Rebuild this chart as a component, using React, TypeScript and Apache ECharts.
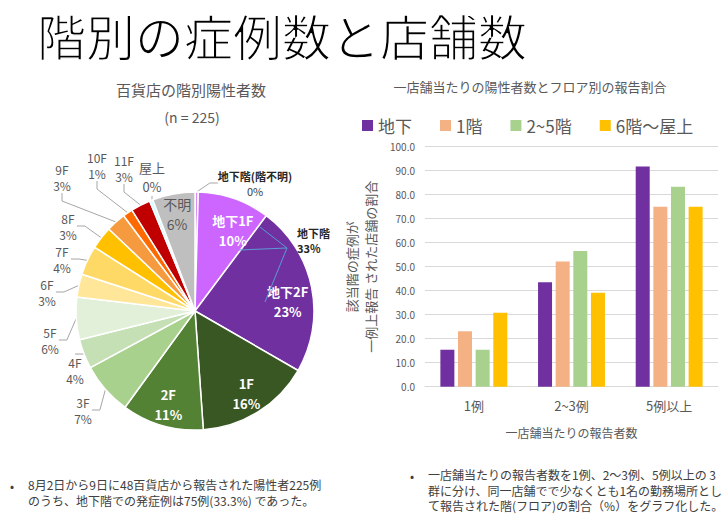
import React, { useEffect, useRef } from 'react';
import * as echarts from 'echarts';

// ---- Pie data (n = 225) ----
const pieNames = ['地下階(階不明)', '地下1F', '地下2F', '1F', '2F', '3F', '4F', '5F', '6F', '7F', '8F', '9F', '10F', '11F', '屋上', '不明'];
const pieCounts = [1, 22, 52, 35, 25, 16, 9, 13, 7, 9, 7, 6, 3, 6, 1, 13];
const pieColors = ['#DC8CF5', '#CC66FF', '#7030A0', '#385723', '#548235', '#A9D18E', '#C5E0B4', '#E2F0D9', '#FFE699', '#FFD966', '#FFC000', '#F59A3E', '#FF6A00', '#C00000', '#CCFFFF', '#BFBFBF'];
const insideLabelNames = ['地下1F', '地下2F', '1F', '2F', '不明'];

// ---- Bar data ----
const barCategories = ['1例', '2~3例', '5例以上'];
const seriesNames = ['地下', '1階', '2~5階', '6階～屋上'];
const basementValues = [15.4, 43.5, 91.7];
const firstFloorValues = [23.1, 52.2, 75.0];
const floors2to5Values = [15.4, 56.5, 83.3];
const floors6upValues = [30.8, 39.1, 75.0];
const barColors = ['#7030A0', '#F4B183', '#A9D18E', '#FFC000'];

// ---- Texts ----
const mainTitle = '階別の症例数と店舗数';
const pieTitle = '百貨店の階別陽性者数';
const pieSubtitle = '(n = 225)';
const barTitle = '一店舗当たりの陽性者数とフロア別の報告割合';
const leftNote = '8月2日から9日に48百貨店から報告された陽性者225例\nのうち、地下階での発症例は75例(33.3%) であった。';
const rightNote = '一店舗当たりの報告者数を1例、2～3例、5例以上の 3\n群に分け、同一店舗でで少なくとも1名の勤務場所とし\nて報告された階(フロア)の割合（%）をグラフ化した。';

// ---- Layout (positions only) ----
const FONT = '"Noto Sans CJK JP", "Noto Sans", sans-serif';
const PIE_CX = 195;
const PIE_CY = 311;
const PIE_R = 119;
// inside label tweak: [radial scale from default (0.5R) position, rotation in degrees]
const insideLabelTweak: Record<string, [number, number]> = {
  '地下1F': [1.42, 6],
  '地下2F': [1.49, 6],
  '1F': [1.55, 0],
  '2F': [1.55, 0],
  '不明': [1.58, 0],
};
const outsideLabelPos: Record<string, [number, number]> = {
  '地下階(階不明)': [255, 183],
  '3F': [83, 410],
  '4F': [75, 370],
  '5F': [50, 340],
  '6F': [47, 292],
  '7F': [62, 259],
  '8F': [68, 226],
  '9F': [62, 177],
  '10F': [97, 165],
  '11F': [124, 168],
  '屋上': [152, 177],
};

export default function App() {
  const ref = useRef<HTMLDivElement>(null);
  useEffect(() => {
    if (!ref.current) return;
    const chart = echarts.init(ref.current, null, { renderer: 'svg' });
    const total = pieCounts.reduce((a, b) => a + b, 0);

    const pieData = pieNames.map((name, i) => {
      const inside = insideLabelNames.includes(name);
      const item: any = {
        name,
        value: pieCounts[i],
        itemStyle: { color: pieColors[i] },
      };
      if (inside) {
        const gray = name === '不明';
        item.label = {
          position: 'inside',
          color: gray ? '#595959' : '#ffffff',
          fontWeight: gray ? 'normal' : 'bold',
          fontSize: gray ? 14 : 13,
          lineHeight: 20,
        };
      } else if (name === '地下階(階不明)') {
        item.label = {
          position: 'outside',
          formatter: (p: any) => `{t|${p.name}}\n{v|${Math.round((p.value / total) * 100)}%}`,
          rich: {
            t: { fontSize: 11, fontWeight: 'bold', color: '#262626', fontFamily: FONT, lineHeight: 15 },
            v: { fontSize: 11, color: '#404040', fontFamily: FONT, lineHeight: 15 },
          },
        };
      } else {
        item.label = {
          position: 'outside',
          fontSize: name === '屋上' ? 13 : 12,
          color: '#595959',
          lineHeight: name === '屋上' ? 19 : 16,
        };
      }
      return item;
    });

    const barSeriesValues = [basementValues, firstFloorValues, floors2to5Values, floors6upValues];
    const titleFont = '"Noto Sans CJK JP", sans-serif';

    const option: any = {
      animation: false,
      backgroundColor: '#ffffff',
      textStyle: { fontFamily: FONT },
      graphic: [
        {
          type: 'text', x: 37, y: 34, z: 100,
          style: { text: mainTitle, fontSize: 49, fontFamily: titleFont, fill: '#000000', textVerticalAlign: 'middle', verticalAlign: 'middle' },
        },
        // white outline drawn on top thins the strokes to a light weight
        {
          type: 'text', x: 37, y: 34, z: 101, silent: true,
          style: { text: mainTitle, fontSize: 49, fontFamily: titleFont, fill: 'none', stroke: '#ffffff', lineWidth: 1.4, textVerticalAlign: 'middle', verticalAlign: 'middle' },
        },
        {
          type: 'text', x: 191, y: 89, z: 100,
          style: { text: pieTitle, fontSize: 15, fontFamily: FONT, fill: '#595959', textAlign: 'center', align: 'center', textVerticalAlign: 'middle', verticalAlign: 'middle' },
        },
        {
          type: 'text', x: 192, y: 117, z: 100,
          style: { text: pieSubtitle, fontSize: 14, fontFamily: FONT, fill: '#595959', textAlign: 'center', align: 'center', textVerticalAlign: 'middle', verticalAlign: 'middle' },
        },
        {
          type: 'text', x: 530, y: 86, z: 100,
          style: { text: barTitle, fontSize: 13, fontFamily: FONT, fill: '#595959', textAlign: 'center', align: 'center', textVerticalAlign: 'middle', verticalAlign: 'middle' },
        },
        // callout for 地下階 total
        { type: 'line', z: 100, shape: { x1: 287, y1: 248, x2: 260, y2: 227 }, style: { stroke: '#5B9BD5', lineWidth: 1 } },
        { type: 'line', z: 100, shape: { x1: 287, y1: 248, x2: 239, y2: 250 }, style: { stroke: '#5B9BD5', lineWidth: 1 } },
        { type: 'line', z: 100, shape: { x1: 287, y1: 248, x2: 265, y2: 302 }, style: { stroke: '#5B9BD5', lineWidth: 1 } },
        {
          type: 'text', x: 297, y: 233, z: 100,
          style: { text: '地下階', fontSize: 11, fontWeight: 'bold', fontFamily: FONT, fill: '#262626', textVerticalAlign: 'middle', verticalAlign: 'middle' },
        },
        {
          type: 'text', x: 297, y: 248, z: 100,
          style: { text: '33%', fontSize: 11, fontWeight: 'bold', fontFamily: FONT, fill: '#262626', textVerticalAlign: 'middle', verticalAlign: 'middle' },
        },
        // footnotes
        {
          type: 'text', x: 10, y: 485, z: 100,
          style: { text: '•', fontSize: 12, fontFamily: FONT, fill: '#404040', textVerticalAlign: 'middle', verticalAlign: 'middle' },
        },
        {
          type: 'text', x: 28, y: 492.5, z: 100,
          style: { text: leftNote, fontSize: 12, lineHeight: 15.5, fontFamily: FONT, fill: '#404040', textVerticalAlign: 'middle', verticalAlign: 'middle' },
        },
        {
          type: 'text', x: 410, y: 475, z: 100,
          style: { text: '•', fontSize: 12, fontFamily: FONT, fill: '#404040', textVerticalAlign: 'middle', verticalAlign: 'middle' },
        },
        {
          type: 'text', x: 428, y: 490, z: 100,
          style: { text: rightNote, fontSize: 12, lineHeight: 15.5, fontFamily: FONT, fill: '#404040', textVerticalAlign: 'middle', verticalAlign: 'middle' },
        },
      ],
      legend: {
        data: seriesNames,
        left: 362,
        top: 117,
        itemWidth: 11,
        itemHeight: 11,
        itemGap: 28,
        icon: 'rect',
        padding: 0,
        textStyle: { fontSize: 17, color: '#595959', fontFamily: FONT },
      },
      grid: { left: 425, right: 10, top: 146.7, bottom: 135.3, containLabel: false },
      xAxis: {
        type: 'category',
        data: barCategories,
        axisLine: { lineStyle: { color: '#D9D9D9' } },
        axisTick: { show: false },
        axisLabel: { fontSize: 13, color: '#595959', margin: 12 },
        name: '一店舗当たりの報告者数',
        nameLocation: 'middle',
        nameGap: 40,
        nameTextStyle: { fontSize: 12, color: '#595959' },
      },
      yAxis: {
        type: 'value',
        min: 0,
        max: 100,
        interval: 10,
        axisLine: { show: false },
        axisTick: { show: false },
        splitLine: { lineStyle: { color: '#D9D9D9' } },
        axisLabel: { fontSize: 10, color: '#595959', formatter: (v: number) => v.toFixed(1), margin: 10 },
        name: '該当階の症例が\n一例上報告 された店舗の割合',
        nameLocation: 'middle',
        nameRotate: 90,
        nameGap: 45,
        nameTextStyle: { fontSize: 13, color: '#595959', lineHeight: 19 },
      },
      series: [
        ...seriesNames.map((name, i) => ({
          type: 'bar',
          name,
          data: barSeriesValues[i],
          barWidth: 14,
          barGap: '26%',
          itemStyle: { color: barColors[i] },
        })),
        {
          type: 'pie',
          name: '階別',
          center: [PIE_CX, PIE_CY],
          radius: PIE_R,
          startAngle: 90,
          clockwise: true,
          avoidLabelOverlap: false,
          itemStyle: { borderColor: '#ffffff', borderWidth: 1.5 },
          label: {
            show: true,
            fontFamily: FONT,
            formatter: (p: any) => `${p.name}\n${Math.round((p.value / total) * 100)}%`,
          },
          labelLine: { show: true, length: 8, length2: 8, lineStyle: { color: '#A6A6A6', width: 1 } },
          labelLayout: (params: any) => {
            const name = pieNames[params.dataIndex];
            const r = params.labelRect;
            const tweak = insideLabelTweak[name];
            if (tweak) {
              const vx = r.x + r.width / 2 - PIE_CX;
              const vy = r.y + r.height / 2 - PIE_CY;
              const a = (tweak[1] * Math.PI) / 180;
              const nx = (vx * Math.cos(a) - vy * Math.sin(a)) * tweak[0];
              const ny = (vx * Math.sin(a) + vy * Math.cos(a)) * tweak[0];
              return { dx: nx - vx, dy: ny - vy };
            }
            const pos = outsideLabelPos[name];
            if (pos) {
              return { x: pos[0], y: pos[1], align: 'center', verticalAlign: 'middle' };
            }
            return {};
          },
          data: pieData,
        },
      ],
    };
    chart.setOption(option);
    return () => chart.dispose();
  }, []);

  return (
    <div
      ref={ref}
      style={{ position: 'fixed', left: 0, top: 0, width: 728, height: 522, background: '#ffffff' }}
    />
  );
}
